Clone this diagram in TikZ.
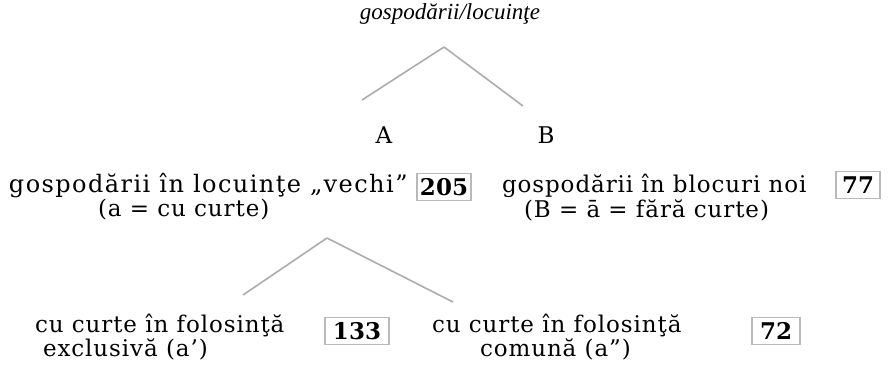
\documentclass[tikz,border=0pt]{standalone}
\usepackage{fontspec}
\setmainfont{DejaVu Serif}
\newfontfamily\titlefont{Liberation Serif}
\usetikzlibrary{positioning}

\begin{document}
\begin{tikzpicture}[
    x=0.5pt, y=-0.5pt,
    every node/.style={inner sep=0pt, outer sep=0pt},
    lbl/.style={anchor=west, font=\fontsize{11.5}{13}\selectfont\addfontfeatures{LetterSpace=4}},
    widelbl/.style={anchor=west, font=\fontsize{12}{14}\selectfont\addfontfeatures{LetterSpace=6}},
    letter/.style={font=\fontsize{11.5}{13}\selectfont},
    countbox/.style={draw=gray!55, line width=0.6pt, minimum width=25pt, minimum height=13.5pt, font=\fontsize{11.5}{13}\selectfont\bfseries},
    branch/.style={draw=gray!65, line width=0.8pt}
]
\useasboundingbox (0,0) rectangle (890,371);

% Title and first split
\node[font=\titlefont\itshape\fontsize{11.5}{14}\selectfont] (title) at (450,14) {gospodării/locuinţe};
\coordinate (apexT) at (444,47);
\coordinate (endA) at (362,100);
\coordinate (endB) at (523,106);
\draw[branch] (apexT) -- (endA);
\draw[branch] (apexT) -- (endB);

\node[letter] (A) at (384,135) {A};
\node[letter] (B) at (546,135) {B};

% Row 2: old dwellings and new blocks
\node[widelbl] (old) at (9,186) {gospodării în locuinţe „vechi”};
\node[lbl] (oldsub) at (98,210) {(a = cu curte)};
\node[countbox, minimum width=27pt] (nold) at (444,187) {205};

\node[lbl] (new) at (502,186) {gospodării în blocuri noi};
\node[lbl] (newsub) at (524,210) {(B = ā = fără curte)};
\node[countbox, minimum width=22pt] (nnew) at (858,185) {77};

% second split, under A
\coordinate (apexA) at (327,238);
\coordinate (endex) at (243,295);
\coordinate (endcom) at (453,302);
\draw[branch] (apexA) -- (endex);
\draw[branch] (apexA) -- (endcom);

% Row 3: yard use
\node[lbl] (excl) at (35,326) {cu curte în folosinţă};
\node[lbl] (exclsub) at (43,349) {exclusivă (a')};
\node[countbox, minimum width=32pt] (nexcl) at (357,331) {133};

\node[lbl] (comm) at (432,326) {cu curte în folosinţă};
\node[lbl] (commsub) at (480,349) {comună (a'')};
\node[countbox, minimum width=24pt] (ncomm) at (776,331) {72};

\end{tikzpicture}
\end{document}
